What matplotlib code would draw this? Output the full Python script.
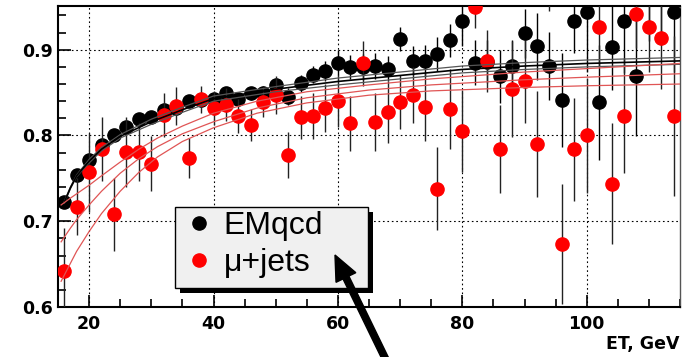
import numpy as np
import matplotlib
matplotlib.use("Agg")
import matplotlib.pyplot as plt
from matplotlib.lines import Line2D
from matplotlib.patches import Rectangle, FancyArrow
from matplotlib.ticker import MultipleLocator

# bin centres, ET in GeV
et = np.arange(16, 115, 2)

# EMqcd points and errors
emqcd = [0.723, 0.754, 0.772, 0.789, 0.800, 0.810, 0.819, 0.822, 0.830, 0.832,
         0.840, 0.841, 0.843, 0.849, 0.842, 0.849, 0.850, 0.859, 0.845, 0.861,
         0.871, 0.875, 0.885, 0.880, 0.880, 0.881, 0.878, 0.913, 0.887, 0.887,
         0.895, 0.911, 0.934, 0.885, 0.886, 0.869, 0.881, 0.919, 0.904, 0.881,
         0.841, 0.933, 0.944, 0.839, 0.903, 0.933, 0.869, 0.970, 0.965, 0.944]
emqcd_err = [0.005, 0.005, 0.005, 0.005, 0.005, 0.005, 0.005, 0.005, 0.006, 0.006,
             0.006, 0.006, 0.006, 0.008, 0.008, 0.008, 0.008, 0.008, 0.010, 0.010,
             0.010, 0.012, 0.015, 0.014, 0.015, 0.015, 0.015, 0.014, 0.017, 0.018,
             0.020, 0.019, 0.030, 0.026, 0.025, 0.031, 0.030, 0.029, 0.039, 0.040,
             0.055, 0.037, 0.070, 0.067, 0.050, 0.060, 0.070, 0.060, 0.060, 0.070]

# mu+jets points and errors
mujets = [0.642, 0.717, 0.757, 0.784, 0.708, 0.781, 0.781, 0.767, 0.824, 0.834,
          0.774, 0.842, 0.832, 0.836, 0.823, 0.812, 0.839, 0.847, 0.777, 0.821,
          0.823, 0.832, 0.840, 0.814, 0.884, 0.816, 0.827, 0.839, 0.847, 0.833,
          0.738, 0.831, 0.805, 0.950, 0.887, 0.784, 0.854, 0.863, 0.790, 0.975,
          0.674, 0.784, 0.800, 0.926, 0.744, 0.823, 0.942, 0.926, 0.914, 0.823]
mujets_err = [0.050, 0.033, 0.046, 0.037, 0.043, 0.041, 0.034, 0.032, 0.026, 0.022,
              0.023, 0.016, 0.020, 0.019, 0.020, 0.019, 0.018, 0.022, 0.027, 0.025,
              0.027, 0.028, 0.030, 0.032, 0.026, 0.034, 0.036, 0.032, 0.033, 0.040,
              0.048, 0.047, 0.048, 0.025, 0.036, 0.051, 0.056, 0.048, 0.062, 0.030,
              0.070, 0.060, 0.067, 0.045, 0.071, 0.067, 0.040, 0.052, 0.060, 0.093]

# fitted curves
fit_x = [16, 17, 18, 20, 22, 25, 30, 35, 40, 50, 60, 70, 80, 90, 100, 115]
em_fit = [0.722, 0.739, 0.753, 0.770, 0.784, 0.799, 0.816, 0.830, 0.843, 0.854,
          0.863, 0.870, 0.877, 0.881, 0.884, 0.887]
em_fit_hi = [0.723, 0.740, 0.754, 0.772, 0.786, 0.801, 0.819, 0.833, 0.846, 0.857,
             0.867, 0.874, 0.881, 0.885, 0.888, 0.891]
em_fit_lo = [0.721, 0.738, 0.752, 0.768, 0.782, 0.797, 0.813, 0.827, 0.840, 0.851,
             0.859, 0.866, 0.873, 0.877, 0.880, 0.883]

rfit_x = [15.5, 17, 18, 20, 22, 25, 28, 31, 35, 40, 47, 55, 65, 75, 90, 100, 115]
mu_fit_hi = [0.719, 0.727, 0.732, 0.742, 0.753, 0.769, 0.784, 0.797, 0.811, 0.826,
             0.840, 0.851, 0.859, 0.866, 0.874, 0.878, 0.884]
mu_fit = [0.676, 0.692, 0.702, 0.719, 0.735, 0.756, 0.773, 0.787, 0.802, 0.816,
          0.832, 0.844, 0.853, 0.859, 0.865, 0.868, 0.872]
mu_fit_lo = [0.630, 0.651, 0.665, 0.688, 0.709, 0.735, 0.757, 0.775, 0.793, 0.809,
             0.826, 0.838, 0.847, 0.852, 0.856, 0.858, 0.860]

fig = plt.figure(figsize=(6.84, 3.57), dpi=100)
ax = fig.add_axes([58 / 684, 50 / 357, 622 / 684, 301 / 357])

# data points
ax.errorbar(et, emqcd, yerr=emqcd_err, fmt="o", color="black", ecolor="black",
            elinewidth=1.0, capsize=0, ms=9.5, zorder=3)
ax.errorbar(et, mujets, yerr=mujets_err, fmt="o", color="red", mec="red",
            ecolor="#222222", elinewidth=1.0, capsize=0, ms=9.5, zorder=4)

# fit curves
ax.plot(fit_x, em_fit_hi, color="#555555", lw=0.9, zorder=5)
ax.plot(fit_x, em_fit_lo, color="#555555", lw=0.9, zorder=5)
ax.plot(fit_x, em_fit, color="black", lw=1.2, zorder=5)
for yy in (mu_fit_hi, mu_fit, mu_fit_lo):
    ax.plot(rfit_x, yy, color="#e05555", lw=0.9, zorder=5)

ax.set_xlim(15, 115)
ax.set_ylim(0.6, 0.951)

ax.xaxis.set_major_locator(MultipleLocator(20))
ax.xaxis.set_minor_locator(MultipleLocator(5))
ax.yaxis.set_major_locator(MultipleLocator(0.1))
ax.yaxis.set_minor_locator(MultipleLocator(0.02))
ax.tick_params(which="both", direction="in", top=False, right=False, width=1.2)
ax.tick_params(which="major", length=9)
ax.tick_params(which="minor", length=6)
ax.tick_params(axis="y", pad=4)
ax.tick_params(axis="x", pad=6)
for lab in ax.get_xticklabels() + ax.get_yticklabels():
    lab.set_fontweight("bold")
    lab.set_fontsize(12.5)
ax.yaxis.set_major_formatter(matplotlib.ticker.FormatStrFormatter("%.1f"))

ax.grid(True, which="major", color="black", lw=0.8, linestyle=(0, (1.5, 2.5)))
ax.set_axisbelow(True)

for side in ("left", "bottom", "top"):
    ax.spines[side].set_linewidth(1.5)
ax.spines["right"].set_linewidth(1.0)
ax.spines["right"].set_color("#555555")

ax.set_xlabel("ET, GeV", loc="right", fontweight="bold", fontsize=12.5, labelpad=1)

# legend box with a hard shadow
bx, by, bw, bh = (175 - 58) / 622, (307 - 288) / 301, 193 / 622, 81 / 301
ax.add_patch(Rectangle((bx + 5 / 622, by - 5 / 301), bw, bh, transform=ax.transAxes,
                       facecolor="black", edgecolor="none", zorder=6, clip_on=False))
ax.add_patch(Rectangle((bx, by), bw, bh, transform=ax.transAxes, facecolor="#f0f0f0",
                       edgecolor="black", lw=1.0, zorder=6.5, clip_on=False))
handles = [Line2D([], [], marker="o", ls="none", color="black", ms=9.5),
           Line2D([], [], marker="o", ls="none", color="red", ms=9.5)]
leg = ax.legend(handles, ["EMqcd", "\u03bc+jets"], loc="upper left",
                bbox_to_anchor=(bx, by + bh), frameon=False,
                prop={"family": "Liberation Sans", "size": 23},
                handlelength=1.25, handletextpad=0.15, borderpad=0.12,
                labelspacing=0.22, borderaxespad=0)
leg.set_zorder(7)

# big arrow pointing at the legend
arrow = FancyArrow(3.87, -0.05, -0.52, 1.07, width=0.065, head_width=0.22,
                   head_length=0.25, length_includes_head=True, color="black",
                   transform=fig.dpi_scale_trans, clip_on=False)
fig.add_artist(arrow)

fig.savefig("out.png", dpi=100)
